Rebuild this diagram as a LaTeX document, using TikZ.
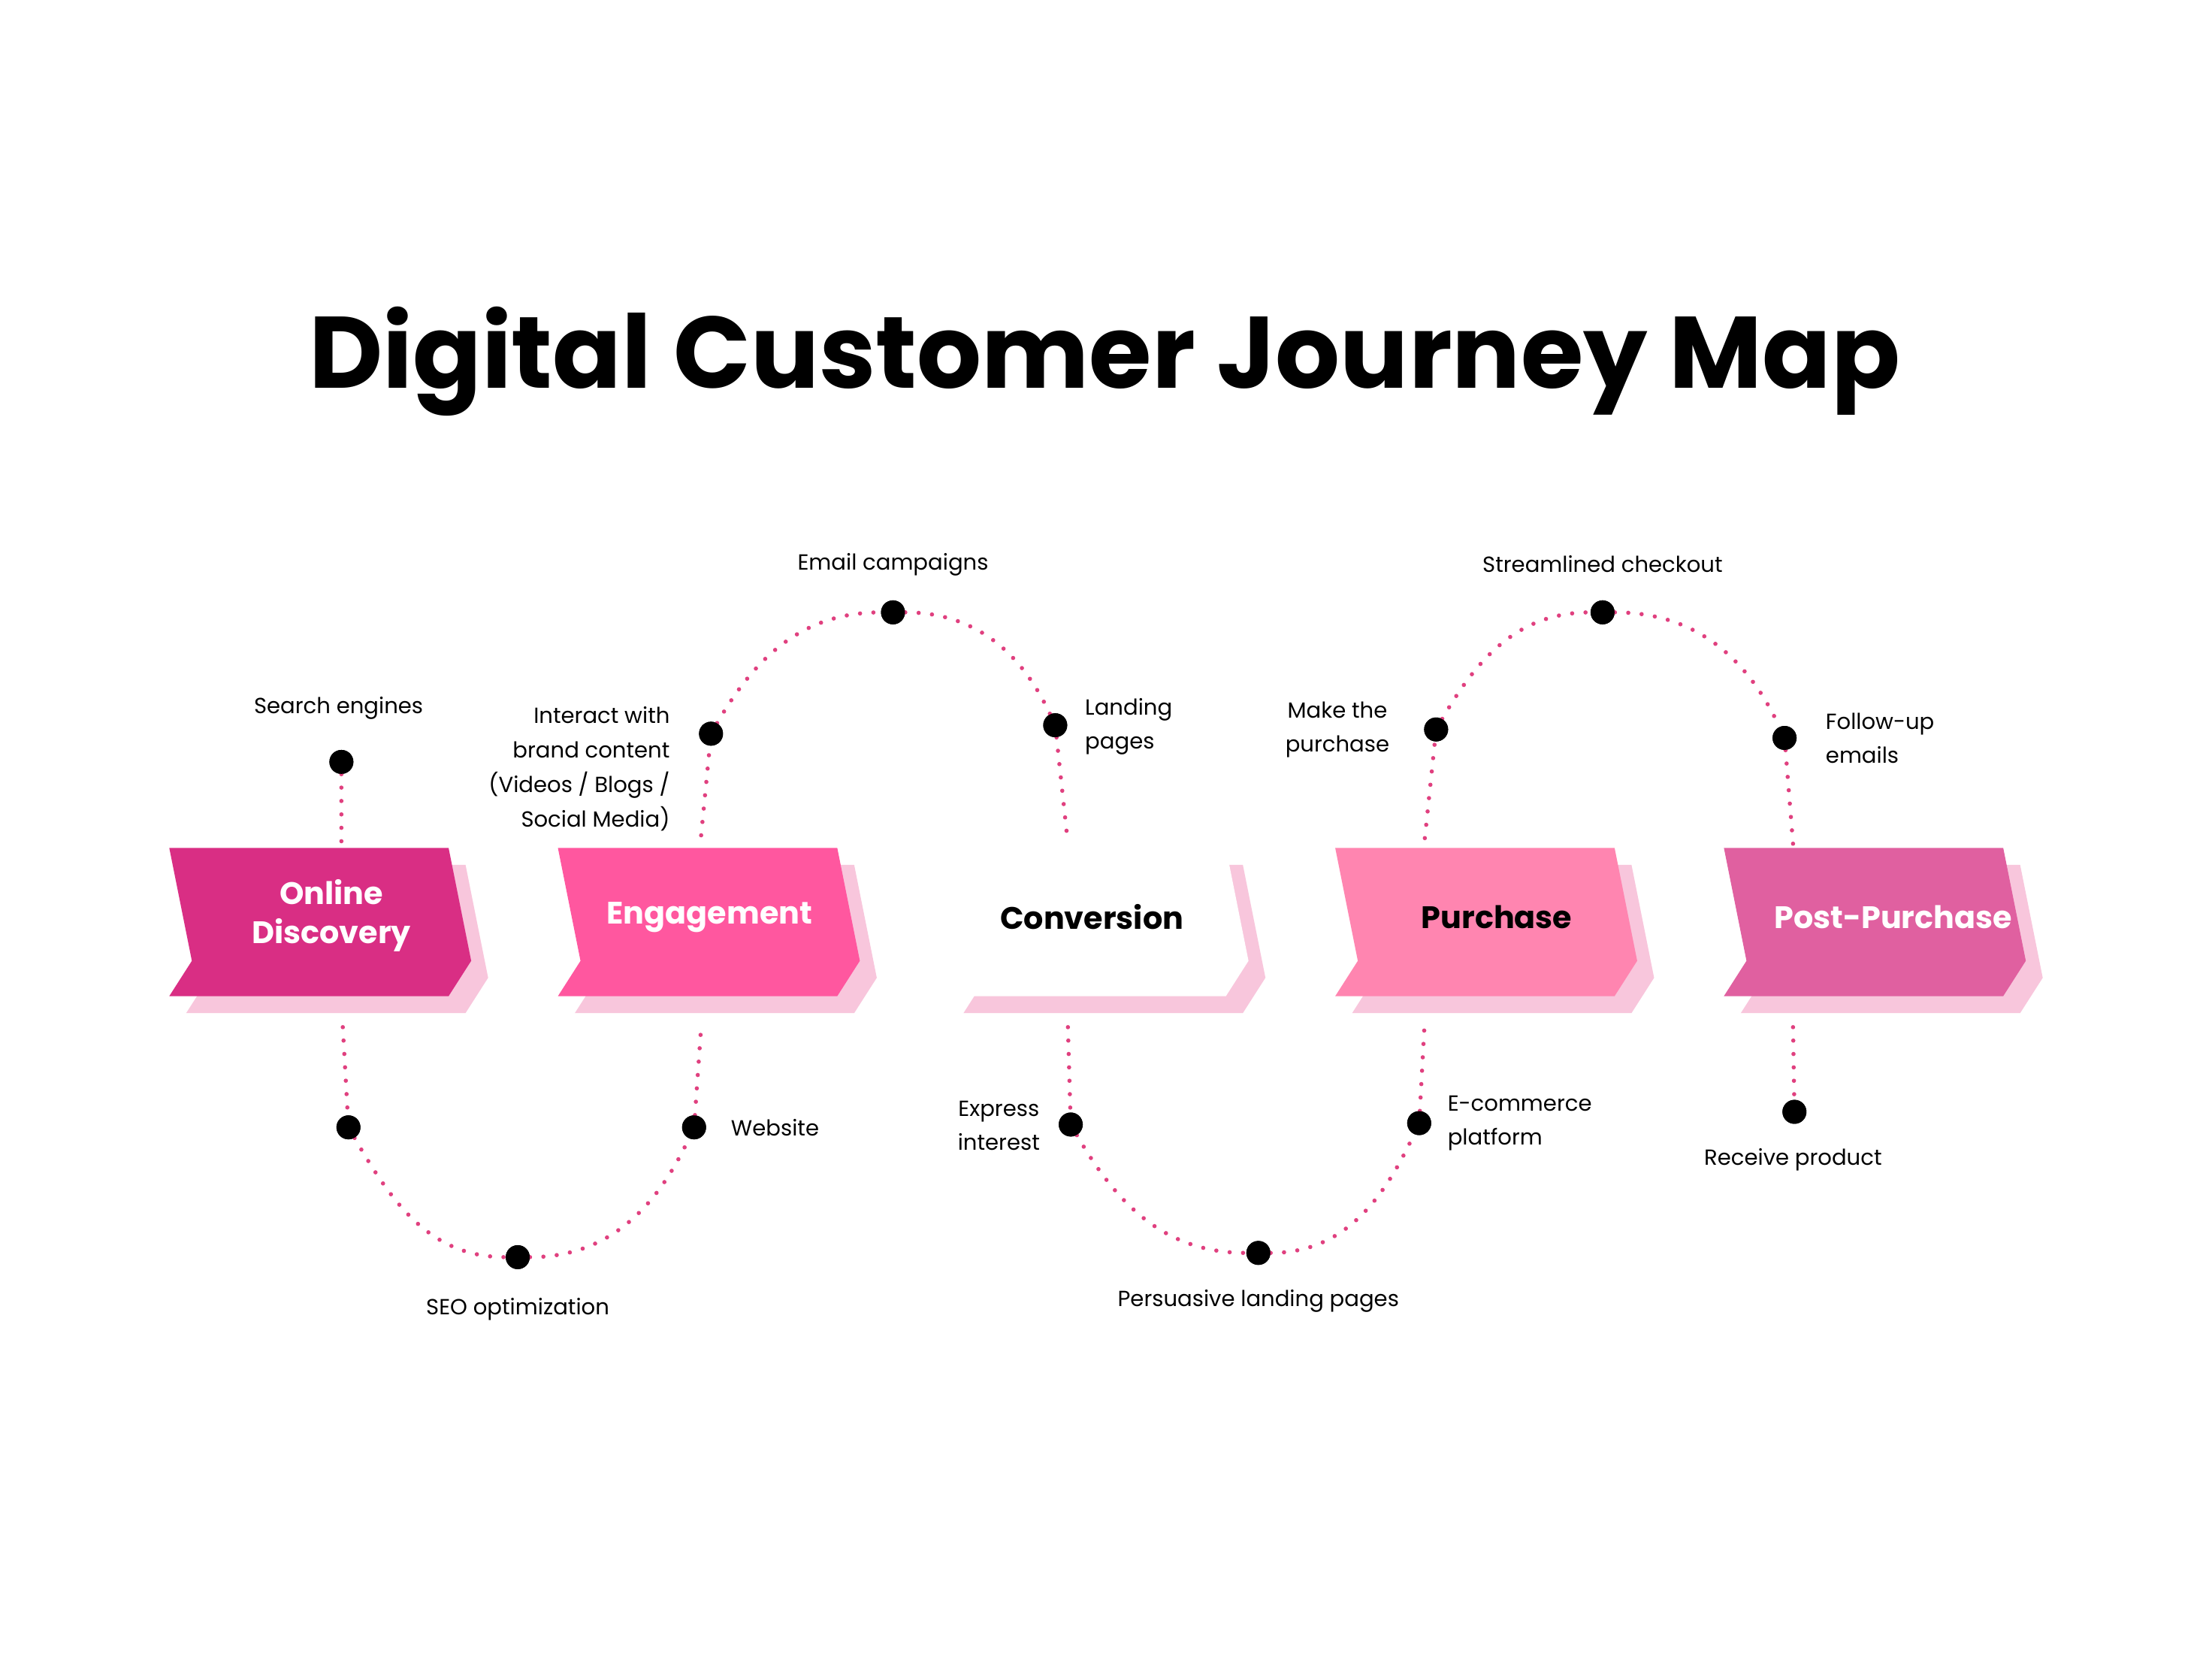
\documentclass[tikz,border=0pt]{standalone}
\usepackage{fontspec}
\setmainfont{Poppins}
\begin{document}
\begin{tikzpicture}[x=1pt,y=-1pt,
  lab/.style={font=\fontsize{15.5}{24}\selectfont, align=center, inner sep=0pt},
  dot/.style={circle, fill=black, minimum size=17pt, inner sep=0pt},
  path/.style={draw=pk, line width=3pt, line cap=round, dash pattern=on 0pt off 9.5pt},
  ttl/.style={font=\fontsize{22}{28}\selectfont\bfseries, align=center, inner sep=0pt}]
\definecolor{pk}{HTML}{E0407F}
\definecolor{sh}{HTML}{F8C6DC}
\definecolor{c1}{HTML}{D92E84}
\definecolor{c2}{HTML}{FF579F}
\definecolor{c4}{HTML}{FF85B0}
\definecolor{c5}{HTML}{E060A0}
\useasboundingbox (0,0) rectangle (1568,1176);
\fill[white] (0,0) rectangle (1568,1176);
\node[font=\fontsize{72}{80}\selectfont\bfseries, inner sep=0pt] (title) at (783,256) {Digital Customer Journey Map};
% chevrons
\foreach \i/\c in {0/c1,1/c2,2/white,3/c4,4/c5}{
  \pgfmathsetmacro{\xo}{120+275.5*\i}
  \begin{scope}[xshift=\xo]
   \fill[sh] (12,613) -- (210,613) -- (226,693) -- (210,718) -- (12,718) -- (28,693) -- cycle;
   \fill[\c] (0,601) -- (198,601) -- (214,681) -- (198,706) -- (0,706) -- (16,681) -- cycle;
  \end{scope}
}
\node[ttl, text=white] (b1) at (235,649) {Online\\Discovery};
\node[ttl, text=white] (b2) at (503,650) {Engagement};
\node[ttl, text=black] (b3) at (774,650) {Conversion};
\node[ttl, text=black] (b4) at (1061,650) {Purchase};
\node[ttl, text=white] (b5) at (1342,650) {Post-Purchase};
% anchor coordinates on boxes
\coordinate (t1) at (242,600); \coordinate (u1) at (243,728);
\coordinate (t2) at (497,592); \coordinate (u2) at (497,728);
\coordinate (t3) at (757,598); \coordinate (u3) at (757,728);
\coordinate (t4) at (1010,594); \coordinate (u4) at (1010,722);
\coordinate (t5) at (1271,598); \coordinate (u5) at (1271,728);
% dots
\node[dot] (d1) at (242,540) {};
\node[dot] (d2) at (247,799) {};
\node[dot] (d3) at (367,891) {};
\node[dot] (d4) at (492,799) {};
\node[dot] (d5) at (504,520) {};
\node[dot] (d6) at (633,434) {};
\node[dot] (d7) at (748,514) {};
\node[dot] (d8) at (759,797) {};
\node[dot] (d9) at (892,888) {};
\node[dot] (d10) at (1006,796) {};
\node[dot] (d11) at (1018,517) {};
\node[dot] (d12) at (1136,434) {};
\node[dot] (d13) at (1265,523) {};
\node[dot] (d14) at (1272,788) {};
% paths
\begin{scope}[on background layer/.style={}]
\draw[path] (d1) -- (t1);
\draw[path] (u1) -- (d2);
\draw[path] (d2) to[out=-60,in=180] (d3);
\draw[path] (d3) to[out=0,in=-115] (d4);
\draw[path] (d4) -- (u2);
\draw[path] (t2) -- (d5);
\draw[path] (d5) to[out=60,in=180] (d6);
\draw[path] (d6) to[out=0,in=115] (d7);
\draw[path] (d7) -- (t3);
\draw[path] (u3) -- (d8);
\draw[path] (d8) to[out=-60,in=180] (d9);
\draw[path] (d9) to[out=0,in=-115] (d10);
\draw[path] (d10) -- (u4);
\draw[path] (t4) -- (d11);
\draw[path] (d11) to[out=60,in=180] (d12);
\draw[path] (d12) to[out=0,in=115] (d13);
\draw[path] (d13) -- (t5);
\draw[path] (u5) -- (d14);
\end{scope}
% redraw dots on top
\foreach \d in {d1,d2,d3,d4,d5,d6,d7,d8,d9,d10,d11,d12,d13,d14}{\fill[black] (\d) circle (8.5pt);}
% labels
\node[lab] (l1) at (240,502) {Search engines};
\node[lab] (l2) at (367,928) {SEO optimization};
\node[lab, anchor=west] (l3) at (518,799) {Website};
\node[lab, align=right, anchor=east, font=\fontsize{15.5}{24.5}\selectfont] (l4) at (475,545) {Interact with\\brand content\\(Videos / Blogs /\\Social Media)};
\node[lab] (l5) at (633,400) {Email campaigns};
\node[lab, align=left, anchor=west] (l6) at (769,515) {Landing\\pages};
\node[lab] (l7) at (708,798) {Express\\interest};
\node[lab] (l8) at (892,922) {Persuasive landing pages};
\node[lab, align=left, anchor=west] (l9) at (1026,796) {E-commerce\\platform};
\node[lab] (l10) at (948,517) {Make the\\purchase};
\node[lab] (l11) at (1136,400) {Streamlined checkout};
\node[lab, align=left, anchor=west] (l12) at (1294,523) {Follow-up\\emails};
\node[lab] (l13) at (1271,822) {Receive product};
\end{tikzpicture}
\end{document}
